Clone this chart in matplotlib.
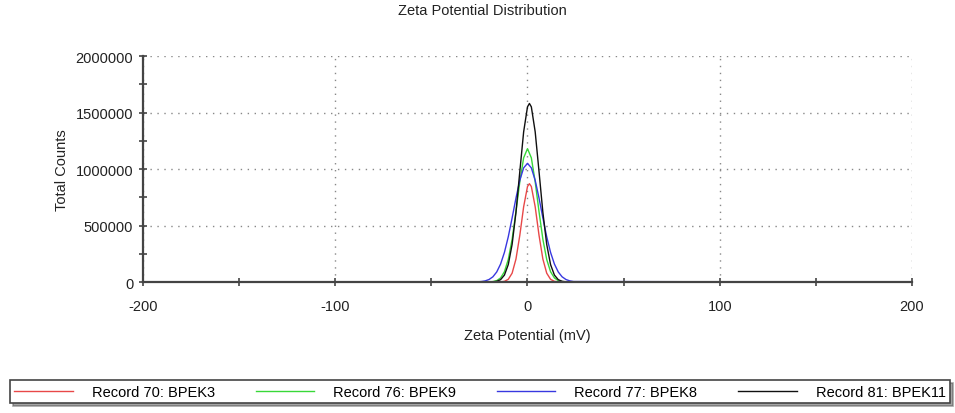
import matplotlib.pyplot as plt
import numpy as np

plt.rcParams['font.family'] = ['Liberation Sans', 'DejaVu Sans']
plt.rcParams['axes.unicode_minus'] = False

# zeta potential (mV) / total counts
x_red = [-200, -14, -12, -10, -8, -6, -4, -2, 0, 1, 2, 4, 6, 8, 10, 12, 14, 16, 200]
y_red = [0, 1000, 5700, 23800, 78000, 203000, 413000, 666000, 845000, 870000,
         845000, 666000, 413000, 203000, 78000, 23800, 5700, 1000, 0]

x_green = [-200, -20, -18, -16, -14, -12, -10, -8, -6, -4, -2, 0,
           2, 4, 6, 8, 10, 12, 14, 16, 18, 20, 200]
y_green = [0, 960, 3700, 12400, 36000, 91000, 199000, 378000, 622000, 887000, 1099000, 1180000,
           1099000, 887000, 622000, 378000, 199000, 91000, 36000, 12400, 3700, 960, 0]

x_blue = [-200, -26, -24, -22, -20, -18, -16, -14, -12, -10, -8, -6, -4, -2, 0,
          2, 4, 6, 8, 10, 12, 14, 16, 18, 20, 22, 24, 200]
y_blue = [0, 1500, 4100, 9900, 22200, 46000, 89000, 159000, 262000, 400000, 567000, 742000, 900000, 1010000, 1050000,
          1010000, 900000, 742000, 567000, 400000, 262000, 159000, 89000, 46000, 22200, 9900, 4100, 0]

x_black = [-200, -18, -16, -14, -12, -10, -8, -6, -4, -2, 0, 1,
           2, 4, 6, 8, 10, 12, 14, 16, 18, 20, 200]
y_black = [0, 1500, 6100, 20800, 61300, 154000, 333000, 616000, 977000, 1329000, 1550000, 1580000,
           1550000, 1329000, 977000, 616000, 333000, 154000, 61300, 20800, 6100, 1500, 0]

labels = ['Record 70: BPEK3', 'Record 76: BPEK9', 'Record 77: BPEK8', 'Record 81: BPEK11']
colors = ['#e84848', '#38d838', '#3838e0', '#101010']

fs = 10.5

fig = plt.figure(figsize=(9.55, 4.14), dpi=100)
ax = fig.add_axes([0.1497, 0.3164, 0.8053, 0.5459])

for xs, ys, c, lab in zip([x_red, x_green, x_blue, x_black],
                          [y_red, y_green, y_blue, y_black], colors, labels):
    ax.plot(xs, ys, color=c, lw=1.0, label=lab)

ax.set_xlim(-200, 200)
ax.set_ylim(0, 2000000)
ax.set_xticks([-200, -100, 0, 100, 200])
ax.set_xticks([-150, -50, 50, 150], minor=True)
ax.set_yticks([0, 500000, 1000000, 1500000, 2000000])
ax.set_yticks([250000, 750000, 1250000, 1750000], minor=True)
ax.set_yticklabels(['0', '500000', '1000000', '1500000', '2000000'])

ax.grid(True, which='major', linestyle=(0, (1, 4)), color='#888888', lw=1.0)
ax.tick_params(which='both', direction='inout', length=6, width=1.2, color='#444444',
               labelsize=fs, labelcolor='#222222')
ax.tick_params(axis='x', pad=9)
ax.tick_params(axis='y', pad=4)

ax.spines['right'].set_visible(False)
ax.spines['top'].set_visible(False)
for s in ['left', 'bottom']:
    ax.spines[s].set_color('#444444')
    ax.spines[s].set_linewidth(1.6)

ax.set_xlabel('Zeta Potential (mV)', fontsize=fs, color='#222222', labelpad=11)
ax.set_ylabel('Total Counts', fontsize=fs, color='#222222', labelpad=5)
fig.suptitle('Zeta Potential Distribution', x=0.505, y=0.99, fontsize=fs, color='#222222')

leg = fig.legend(loc='lower left', bbox_to_anchor=(10/955, 10/414, 940/955, 24/414),
                 mode='expand', ncol=4, handlelength=4.0, fancybox=False, shadow=True,
                 edgecolor='#444444', fontsize=fs, borderaxespad=0, borderpad=0.3,
                 handletextpad=1.3, framealpha=1)
leg.get_frame().set_linewidth(1.2)

fig.savefig('out.png', dpi=100)
